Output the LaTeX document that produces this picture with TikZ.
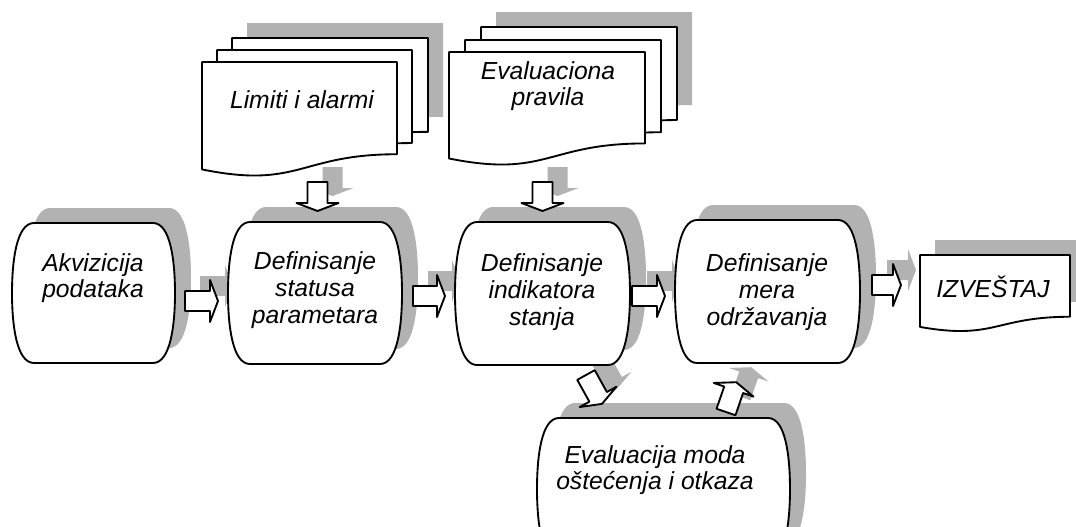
\documentclass[tikz,border=0pt]{standalone}
\usepackage{fontspec}
\setmainfont{Liberation Sans}

% process box with bulging sides: style, x0, y0, x1, y1
\newcommand\procbox[5]{%
  \path[#1] ({#2+22},#3) -- ({#4-22},#3)
    .. controls ({#4-4},#3) and (#4,{#3+40}) .. (#4,{(#3+#5)/2})
    .. controls (#4,{#5-40}) and ({#4-4},#5) .. ({#4-22},#5)
    -- ({#2+22},#5)
    .. controls ({#2+4},#5) and (#2,{#5-40}) .. (#2,{(#3+#5)/2})
    .. controls (#2,{#3+40}) and ({#2+4},#3) .. ({#2+22},#3) -- cycle;}

% document sheet with wavy bottom: style, x0, y0, w, h
\newcommand\docsheet[5]{%
  \path[#1] (#2,#3) -- ({#2+#4},#3) -- ({#2+#4},{#3+0.802*#5})
    .. controls ({#2+0.5*#4},{#3+0.802*#5}) and ({#2+0.5*#4},{#3+1.107*#5})
    .. (#2,{#3+0.934*#5}) -- cycle;}

% block arrow: style, x, y (base centre), angle, shaft length
\newcommand\blockarrow[5]{%
  \path[#1, shift={(#2,#3)}, rotate=#4]
    (0,-10) -- (#5,-10) -- (#5,-21) -- ({#5+8},0) -- (#5,21) -- (#5,10) -- (0,10) -- cycle;}

\begin{document}
\begin{tikzpicture}[x=0.75pt, y=-0.75pt,
  shade/.style={fill=black!30, draw=none},
  outline/.style={fill=white, draw=black, line width=1.4pt, line join=round},
  lbl/.style={font=\itshape\fontsize{18.5}{20}\selectfont, align=center, inner sep=0pt}]

\fill[white] (0,0) rectangle (1076,526);
\useasboundingbox (0,0) rectangle (1076,526);

% ---------- shadows ----------
\docsheet{shade, shift={(15,-15)}}{232}{38}{196}{117}
\docsheet{shade, shift={(15,-15)}}{481}{27}{196}{116}
\docsheet{shade, shift={(15,-15)}}{920}{255}{150}{77}
\procbox{shade, shift={(16,-15)}}{12}{223}{175}{363}
\procbox{shade, shift={(16,-15)}}{228}{222}{402}{364}
\procbox{shade, shift={(16,-15)}}{455}{222}{630}{365}
\procbox{shade, shift={(16,-15)}}{675}{220}{860}{363}
\procbox{shade, shift={(16,-15)}}{537}{418}{790}{560}
\blockarrow{shade}{200}{286}{0}{25}
\blockarrow{shade}{428}{281}{0}{24}
\blockarrow{shade}{647}{281}{0}{25}
\blockarrow{shade}{887}{270}{0}{21}
\blockarrow{shade}{332.5}{167}{-90}{21}
\blockarrow{shade}{557.5}{167}{-90}{21}
\blockarrow{shade}{601}{360}{-61}{25}
\blockarrow{shade}{741}{397}{71}{23.5}

% ---------- document stacks ----------
\docsheet{outline}{232}{38}{196}{117}
\docsheet{outline}{217}{50}{195}{116}
\docsheet{outline}{202}{62}{195}{115}

\docsheet{outline}{481}{27}{196}{116}
\docsheet{outline}{465}{40}{196}{115}
\docsheet{outline}{449}{52}{196}{114}

\docsheet{outline}{920}{255}{150}{77}

% ---------- process boxes ----------
\procbox{outline}{12}{223}{175}{363}
\procbox{outline}{228}{222}{402}{364}
\procbox{outline}{455}{222}{630}{365}
\procbox{outline}{675}{220}{860}{363}
\procbox{outline}{537}{418}{790}{560}

% ---------- block arrows ----------
\blockarrow{outline}{185}{301}{0}{25}
\blockarrow{outline}{413}{296}{0}{24}
\blockarrow{outline}{632}{296}{0}{25}
\blockarrow{outline}{872}{285}{0}{21}
\blockarrow{outline}{317.5}{182}{-90}{21}
\blockarrow{outline}{542.5}{182}{-90}{21}
\blockarrow{outline}{586}{375}{-61}{25}
\blockarrow{outline}{726}{412}{71}{23.5}

% ---------- labels ----------
\node[lbl] (limits) at (302,100) {Limiti i alarmi};
\node[lbl] (rules) at (548,86) {Evaluaciona\\pravila};
\node[lbl] (acq) at (93,278) {Akvizicija\\podataka};
\node[lbl] (status) at (315,290) {Definisanje\\statusa\\parametara};
\node[lbl] (indic) at (542,292) {Definisanje\\indikatora\\stanja};
\node[lbl] (measures) at (767,292) {Definisanje\\mera\\održavanja};
\node[lbl] (modes) at (655,470) {Evaluacija moda\\oštećenja i otkaza};
\node[lbl] (report) at (993,287) {IZVEŠTAJ};

\end{tikzpicture}
\end{document}
